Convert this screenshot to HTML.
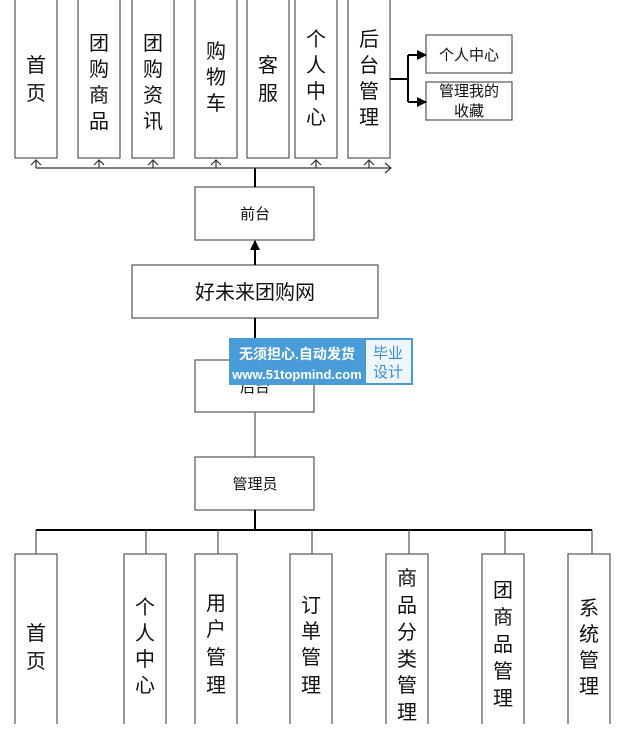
<!DOCTYPE html>
<html><head><meta charset="utf-8"><style>
body{margin:0;background:#fff;}
svg text{font-family:"Liberation Sans","Noto Sans CJK SC",sans-serif;fill:#111;}
</style></head><body>
<svg width="642" height="724" viewBox="0 0 642 724" xmlns="http://www.w3.org/2000/svg">
<defs>
<marker id="fa" markerWidth="10" markerHeight="10" refX="9" refY="5" orient="auto" markerUnits="userSpaceOnUse"><path d="M0,0 L10,5 L0,10 z" fill="#000"/></marker>
</defs>
<g fill="#fff" stroke="#555" stroke-width="1.2">
<rect x="15" y="-2" width="42" height="160"/>
<rect x="78" y="-2" width="42" height="160"/>
<rect x="132" y="-2" width="42" height="160"/>
<rect x="195" y="-2" width="42" height="160"/>
<rect x="247" y="-2" width="42" height="160"/>
<rect x="295" y="-2" width="42" height="160"/>
<rect x="348" y="-2" width="42" height="160"/>
<rect x="426" y="35" width="86" height="38"/>
<rect x="426" y="82" width="86" height="38"/>
<rect x="195" y="187" width="119" height="53"/>
<rect x="132" y="265" width="246" height="53"/>
<rect x="195" y="360" width="119" height="52"/>
<rect x="195" y="457" width="119" height="53"/>
<rect x="15" y="554" width="42" height="175"/>
<rect x="124" y="554" width="42" height="175"/>
<rect x="195" y="554" width="42" height="175"/>
<rect x="290" y="554" width="42" height="175"/>
<rect x="386" y="554" width="42" height="175"/>
<rect x="482" y="554" width="42" height="175"/>
<rect x="568" y="554" width="42" height="175"/>
</g>
<g stroke="#333" stroke-width="1.2" fill="none">
<path d="M36,168 H390"/>
<path d="M385,163 L391,168 L385,173"/>
<g>
<path d="M36,168 V160 M31,165 L36,160 L41,165"/>
<path d="M99,168 V160 M94,165 L99,160 L104,165"/>
<path d="M153,168 V160 M148,165 L153,160 L158,165"/>
<path d="M216,168 V160 M211,165 L216,160 L221,165"/>
<path d="M316,168 V160 M311,165 L316,160 L321,165"/>
<path d="M369,168 V160 M364,165 L369,160 L374,165"/>
</g>
</g>
<g stroke="#000" stroke-width="2" fill="none">
<path d="M255,168 V187"/>
<path d="M255,265 V241" marker-end="url(#fa)"/>
<path d="M390,79 H408 M408,55 V102"/>
<path d="M408,55 H426" marker-end="url(#fa)"/>
<path d="M408,102 H426" marker-end="url(#fa)"/>
<path d="M255,318 V360"/>
<path d="M255,510 V530"/>
<path d="M36,530 H592"/>
</g>
<g stroke="#555" stroke-width="1.2">
<path d="M255,412 V457"/>
<path d="M36,530 V554 M146,530 V554 M218,530 V554 M312,530 V554 M409,530 V554 M505,530 V554 M592,530 V554"/>
</g>
<g font-size="20" text-anchor="middle">
<text x="36" y="72">首</text><text x="36" y="100">页</text>
<text x="99" y="50">团</text><text x="99" y="76">购</text><text x="99" y="102">商</text><text x="99" y="128">品</text>
<text x="153" y="50">团</text><text x="153" y="76">购</text><text x="153" y="102">资</text><text x="153" y="128">讯</text>
<text x="216" y="58">购</text><text x="216" y="84">物</text><text x="216" y="110">车</text>
<text x="268" y="72">客</text><text x="268" y="100">服</text>
<text x="316" y="46">个</text><text x="316" y="72">人</text><text x="316" y="98">中</text><text x="316" y="124">心</text>
<text x="369" y="46">后</text><text x="369" y="72">台</text><text x="369" y="98">管</text><text x="369" y="124">理</text>
</g>
<g font-size="15" text-anchor="middle">
<text x="469" y="60">个人中心</text>
<text x="469" y="96">管理我的</text>
<text x="469" y="116">收藏</text>
<text x="255" y="219">前台</text>
<text x="255" y="392">后台</text>
<text x="255" y="489">管理员</text>
</g>
<text x="255" y="299" font-size="20" text-anchor="middle">好未来团购网</text>
<rect x="229" y="338" width="184" height="47" fill="#4a9cd8"/>
<rect x="366" y="340" width="45" height="43" fill="#eef6fc"/>
<text x="297" y="359" font-size="14" font-weight="bold" text-anchor="middle" style="fill:#fff">无须担心.自动发货</text>
<text x="297" y="379" font-size="13" font-weight="bold" text-anchor="middle" style="fill:#fff">www.51topmind.com</text>
<text x="388" y="358" font-size="15" text-anchor="middle" style="fill:#3a8fd0">毕业</text>
<text x="388" y="377" font-size="15" text-anchor="middle" style="fill:#3a8fd0">设计</text>
<g font-size="20" text-anchor="middle">
<text x="36" y="640">首</text><text x="36" y="668">页</text>
<text x="145" y="614">个</text><text x="145" y="640">人</text><text x="145" y="666">中</text><text x="145" y="692">心</text>
<text x="216" y="610">用</text><text x="216" y="636">户</text><text x="216" y="664">管</text><text x="216" y="692">理</text>
<text x="311" y="612">订</text><text x="311" y="638">单</text><text x="311" y="664">管</text><text x="311" y="692">理</text>
<text x="407" y="585">商</text><text x="407" y="612">品</text><text x="407" y="639">分</text><text x="407" y="666">类</text><text x="407" y="692">管</text><text x="407" y="719">理</text>
<text x="503" y="597">团</text><text x="503" y="624">商</text><text x="503" y="651">品</text><text x="503" y="678">管</text><text x="503" y="705">理</text>
<text x="589" y="615">系</text><text x="589" y="641">统</text><text x="589" y="667">管</text><text x="589" y="693">理</text>
</g>
</svg>
</body></html>
